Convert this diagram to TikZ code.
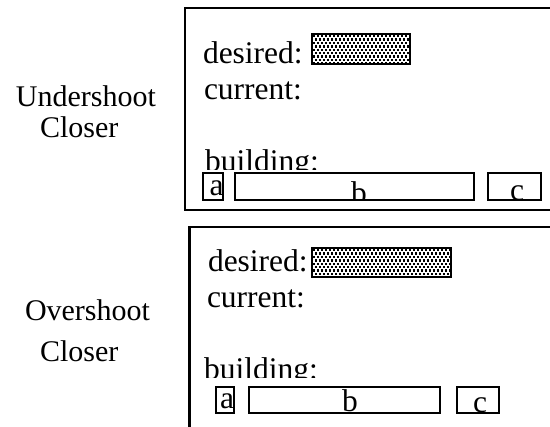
\documentclass[tikz,border=0pt]{standalone}
\usepackage{fontspec}
\setmainfont{Liberation Serif}
\begin{document}
\begin{tikzpicture}[x=1pt,y=-1pt,
  lbl/.style={anchor=base west,inner sep=0pt,outer sep=0pt,font=\fontsize{30}{30}\selectfont},
  txt/.style={anchor=base west,inner sep=0pt,outer sep=0pt,font=\fontsize{31.5}{31.5}\selectfont},
  ltr/.style={anchor=base,inner sep=0pt,outer sep=0pt,font=\fontsize{31.5}{31.5}\selectfont},
  frameline/.style={line width=2.5pt},
  slot/.style={draw,line width=2pt,inner sep=0pt,outer sep=0pt,anchor=north west},
  goal/.style={draw,line width=2pt,inner sep=0pt,outer sep=0pt,anchor=north west},
]
\useasboundingbox (0,0) rectangle (550,427);
\fill[white] (0,0) rectangle (550,427);

% left labels
\node[lbl] (u1) at (16,107) {Undershoot};
\node[lbl] (cl1) at (40,138) {Closer};
\node[lbl] (o2) at (25,321) {Overshoot};
\node[lbl] (cl2) at (40,362) {Closer};

% ---------- top panel ----------
\coordinate (f1a) at (550,8);
\coordinate (f1b) at (185,8);
\coordinate (f1c) at (185,210);
\coordinate (f1d) at (550,210);
\draw[frameline] (f1a) -- (f1b) -- (f1c) -- (f1d);

\node[txt] (d1) at (203,64) {desired:};
\node[txt] (cu1) at (204,100) {current:};
\begin{scope}
  \clip (190,100) rectangle (545,170);
  \node[txt] (bu1) at (205,172) {building:};
\end{scope}

\node[goal,minimum width=98pt,minimum height=30pt] (g1) at (312,34) {};
\begin{scope}
  \clip (g1.north west) rectangle (g1.south east);
  \foreach \i in {0,...,26}{
    \foreach \j in {0,...,9}{
      \fill ({313+\i*4+mod(\j,2)*2},{35+\j*3.4}) rectangle +(2.4,2.4);
    }
  }
\end{scope}
\node[goal,minimum width=98pt,minimum height=30pt] (g1b) at (312,34) {};

\begin{scope}
  \clip (203,173.5) rectangle (223,200);
  \node[ltr] (ta1) at (216.5,196) {a};
\end{scope}
\begin{scope}
  \clip (234.5,173.5) rectangle (474,200);
  \node[ltr] (tb1) at (359,204) {b};
\end{scope}
\begin{scope}
  \clip (488,173.5) rectangle (540.5,200);
  \node[ltr] (tc1) at (517,201) {c};
\end{scope}
\node[slot,minimum width=20pt,minimum height=26.5pt] (a1) at (203,173.5) {};
\node[slot,minimum width=239.5pt,minimum height=26.5pt] (b1) at (234.5,173.5) {};
\node[slot,minimum width=52.5pt,minimum height=26.5pt] (c1) at (488,173.5) {};

% ---------- bottom panel ----------
\coordinate (f2a) at (550,227);
\coordinate (f2b) at (189.5,227);
\coordinate (f2c) at (189.5,427);
\draw[frameline] (f2a) -- (f2b) -- (f2c);

\node[txt] (d2) at (208,272) {desired:};
\node[txt] (cu2) at (207,308) {current:};
\begin{scope}
  \clip (192,330) rectangle (545,378);
  \node[txt] (bu2) at (204,380) {building:};
\end{scope}

\node[goal,minimum width=139pt,minimum height=29pt] (g2) at (312,248) {};
\begin{scope}
  \clip (g2.north west) rectangle (g2.south east);
  \foreach \i in {0,...,36}{
    \foreach \j in {0,...,9}{
      \fill ({313+\i*4+mod(\j,2)*2},{249+\j*3.4}) rectangle +(2.4,2.4);
    }
  }
\end{scope}
\node[goal,minimum width=139pt,minimum height=29pt] (g2b) at (312,248) {};

\begin{scope}
  \clip (216,387) rectangle (234,413);
  \node[ltr] (ta2) at (227,409) {a};
\end{scope}
\begin{scope}
  \clip (248.5,387) rectangle (440,413);
  \node[ltr] (tb2) at (350,412) {b};
\end{scope}
\begin{scope}
  \clip (457,387) rectangle (498.5,413);
  \node[ltr] (tc2) at (480,412.5) {c};
\end{scope}
\node[slot,minimum width=18pt,minimum height=26pt] (a2) at (216,387) {};
\node[slot,minimum width=191.5pt,minimum height=26pt] (b2) at (248.5,387) {};
\node[slot,minimum width=41.5pt,minimum height=26pt] (c2) at (457,387) {};
\end{tikzpicture}
\end{document}
